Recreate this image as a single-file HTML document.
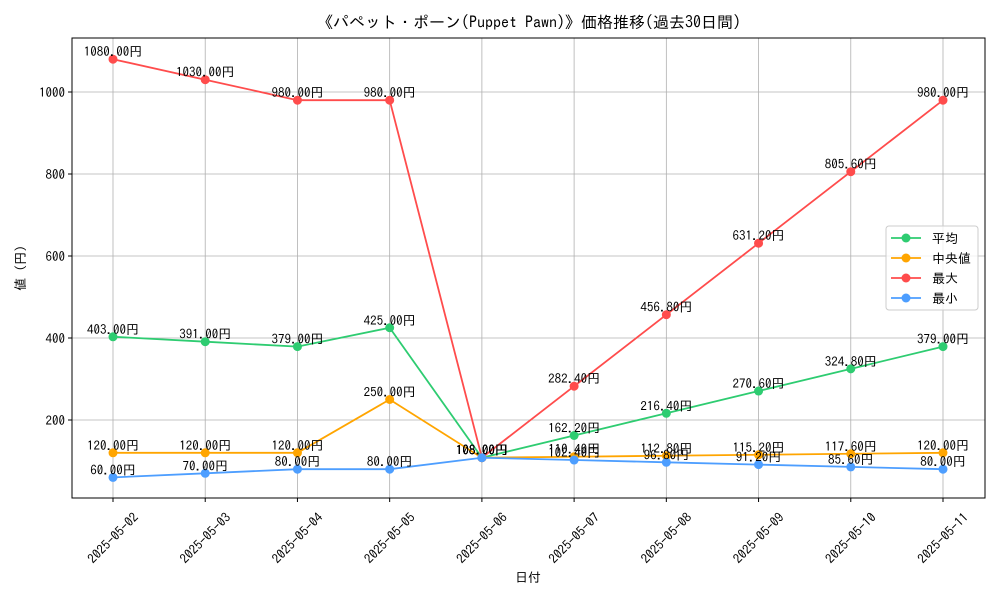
<!DOCTYPE html>
<html><head><meta charset="utf-8"><style>
body{margin:0;background:#fff}
text{font-family:"IPAGothic","Liberation Sans","Noto Sans CJK JP",sans-serif;fill:#000}
</style></head><body>
<svg id="c" width="1000" height="600" xmlns="http://www.w3.org/2000/svg"></svg>
<script>
const categories=["2025-05-02","2025-05-03","2025-05-04","2025-05-05","2025-05-06","2025-05-07","2025-05-08","2025-05-09","2025-05-10","2025-05-11"];
const avgValues=[403,391,379,425,108,162.2,216.4,270.6,324.8,379];
const medianValues=[120,120,120,250,108,110.4,112.8,115.2,117.6,120];
const maxValues=[1080,1030,980,980,108,282.4,456.8,631.2,805.6,980];
const minValues=[60,70,80,80,108,102.4,96.8,91.2,85.6,80];
const yTicks=[200,400,600,800,1000];
const seriesNames=["平均","中央値","最大","最小"];
const svg=document.getElementById('c');
const NS="http://www.w3.org/2000/svg";
const L=72,R=985,T=38,B=498;
const x=i=>113+i*(943-113)/(categories.length-1);
const y=v=>502-v*0.41;
function el(t,a,p){const e=document.createElementNS(NS,t);for(const k in a)e.setAttribute(k,a[k]);(p||svg).appendChild(e);return e;}
const title=el('text',{x:529,y:28,'text-anchor':'middle','font-size':16});title.textContent="《パペット・ポーン(Puppet Pawn)》価格推移(過去30日間)";


categories.forEach((c,i)=>{
 const g=el('line',{x1:x(i),x2:x(i),y1:T,y2:B,stroke:'#b0b0b0','stroke-width':0.8});
 
 
 el('line',{x1:x(i),x2:x(i),y1:B,y2:B+4,stroke:'#000'});
 const ax=x(i), ay=B+40;
 const t=el('text',{x:ax,y:ay,'text-anchor':'middle','font-size':13,transform:`rotate(-45 ${ax} ${ay})`,dy:'0.35em'});
 t.textContent=c;
 
 
});
yTicks.forEach(v=>{
 const g=el('line',{x1:L,x2:R,y1:y(v),y2:y(v),stroke:'#b0b0b0','stroke-width':0.8});
 
 
 el('line',{x1:L-4,x2:L,y1:y(v),y2:y(v),stroke:'#000'});
 const t=el('text',{x:L-7,y:y(v)+5,'text-anchor':'end','font-size':13});t.textContent=v;
 
 
});
const frame=el('rect',{x:L,y:T,width:R-L,height:B-T,fill:'none',stroke:'#000','stroke-width':1});


const xt=el('text',{x:528,y:582,'text-anchor':'middle','font-size':13});xt.textContent="日付";


const yt=el('text',{x:25,y:268,'text-anchor':'middle','font-size':13,transform:'rotate(-90 25 268)'});yt.textContent="値 (円)";


const series=[[avgValues,'#2ecc71','avg'],[medianValues,'#ffa500','median'],[maxValues,'#ff4c4c','max'],[minValues,'#4d9eff','min']];
series.forEach(([vals,col,n])=>{
 const pl=el('polyline',{points:vals.map((v,i)=>x(i)+','+y(v)).join(' '),fill:'none',stroke:col,'stroke-width':1.8});
 
 
 vals.forEach((v,i)=>{
  const c=el('circle',{cx:x(i),cy:y(v),r:4.5,fill:col});
  
  
  const t=el('text',{x:x(i),y:y(v)-3,'text-anchor':'middle','font-size':13});t.textContent=v.toFixed(2)+"円";
  
  
 });
});
const lg=el('g',{});


el('rect',{x:886,y:226,width:92,height:84,rx:3,fill:'#fff','fill-opacity':0.8,stroke:'#ccc'},lg);
series.forEach(([v,col,n],k)=>{
 const yy=238+k*20;
 el('line',{x1:891,x2:921,y1:yy,y2:yy,stroke:col,'stroke-width':1.8},lg);
 el('circle',{cx:906,cy:yy,r:4.5,fill:col},lg);
 const t=el('text',{x:932,y:yy+5,'font-size':13},lg);t.textContent=seriesNames[k];
 
 
});
</script>
</body></html>
